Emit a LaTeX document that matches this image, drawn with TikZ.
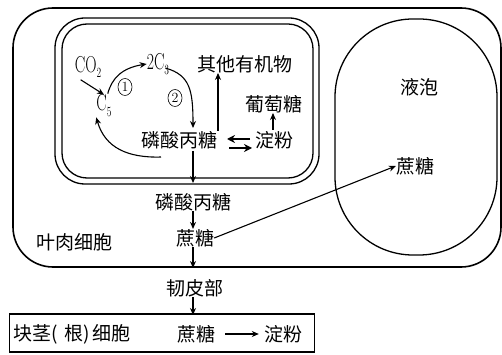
\documentclass[tikz,border=0pt]{standalone}
\usepackage{fontspec}
\newfontfamily\cjk{Noto Sans CJK SC}
\usetikzlibrary{arrows.meta,shapes.geometric}
\newcommand{\narrowtxt}[1]{\scalebox{0.68}[1]{#1}}
\begin{document}
\begin{tikzpicture}[x=1pt,y=-1pt,
  zh/.style={font=\cjk\fontsize{19}{22}\selectfont, inner sep=0pt},
  la/.style={font=\fontsize{23}{26}\selectfont, inner sep=0pt},
  num/.style={ellipse,draw,line width=0.6pt,inner sep=0pt,minimum width=14pt,minimum height=17pt,font=\fontsize{14}{15}\selectfont},
  arr/.style={line width=1.1pt,-{Stealth[length=7pt,width=6pt]}},
  xarr/.style={line width=1.3pt,-{Stealth[length=8pt,width=8pt]}},
  memb/.style={line width=1.3pt}]
\useasboundingbox (0,0) rectangle (502,355);
% outer cell
\draw[line width=1.6pt, rounded corners=40pt] (13,8) rectangle (501,267);
% chloroplast (double membrane)
\draw[memb, rounded corners=30pt] (55,18) rectangle (319,184);
\draw[memb, rounded corners=25pt] (62,24) rectangle (313,178);
% vacuole
\draw[memb, rounded corners=78pt] (335,19) rectangle (497,255);

% texts
\node[la] (co2) at (88,67) {\narrowtxt{CO}\raisebox{-5pt}{\fontsize{14}{15}\selectfont\narrowtxt{2}}};
\node[la] (c3) at (158,64) {\narrowtxt{2C}\raisebox{-5pt}{\fontsize{14}{15}\selectfont\narrowtxt{3}}};
\node[zh] (other) at (245,64) {其他有机物};
\node[la] (c5) at (104,106) {\narrowtxt{C}\raisebox{-6pt}{\fontsize{14}{15}\selectfont\narrowtxt{5}}};
\node[num] (n1) at (125,87) {1};
\node[num] (n2) at (175,98) {2};
\node[zh] (glu) at (274,104) {葡萄糖};
\node[zh] (tp1) at (179,140) {磷酸丙糖};
\node[zh] (st1) at (274,140) {淀粉};
\node[zh] (tp2) at (193,202) {磷酸丙糖};
\node[zh] (su1) at (195,238) {蔗糖};
\node[zh] (lbl) at (74,242) {叶肉细胞};
\node[zh] (vac) at (419,87) {液泡};
\node[zh] (su2) at (415,166) {蔗糖};
\node[zh] (phl) at (195,288) {韧皮部};
\node[draw, line width=1.2pt, minimum width=305pt, minimum height=38pt, inner sep=0pt] (box) at (162,333) {};
\node[zh, anchor=west] (tub) at (13,334) {块茎(\hspace{7pt}根)\hspace{2pt}细胞};
\node[zh] (su3) at (196,334) {蔗糖};
\node[zh] (st2) at (283,334) {淀粉};

% coordinates on membranes
\coordinate (m1) at (193,183);
\coordinate (m2) at (193,268);
\coordinate (m3) at (193,315);

% Calvin cycle arrows
\draw[arr] (co2.south west) ++(6,2) -- (c5.north);
\draw[arr] (c5.north east) ++(-4,-1) .. controls (112,78) and (122,68) .. (c3.west);
\draw[arr] (c3.east) ++(-4,4) .. controls (190,75) and (193,90) .. (193,128);
\draw[arr] (tp1.south) ++(-18,8) .. controls (128,158) and (105,148) .. (c5.south west) ;
% up to other organics
\draw[arr] (218,131) -- (other.south -| 218,0);
% starch -> glucose
\draw[arr] (st1.north) ++(-1,-1) -- (glu.south -| 273,0);
% exchange arrows
\draw[xarr] (250,139) -- (227,139);
\draw[xarr] (229,148) -- (252,148);
% down arrows
\draw[arr] (193,151) -- (m1);
\draw[arr] (tp2.south -| 193,0) -- (su1.north -| 193,0);
\draw[arr] (su1.south -| 193,0) -- (m2);
\draw[arr] (phl.south -| 193,0) -- (m3);
% to vacuole
\draw[arr] (su1.east) -- (su2.west);
% sucrose -> starch in tuber
\draw[arr] (su3.east) ++(10,0) -- ([xshift=-5pt]st2.west);
\end{tikzpicture}
\end{document}
